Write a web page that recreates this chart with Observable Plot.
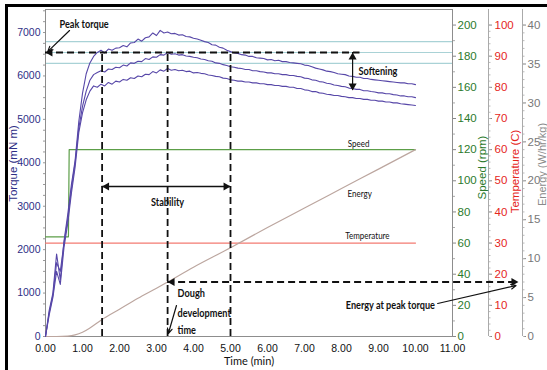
<!DOCTYPE html>
<html><head><meta charset="utf-8">
<script src="https://cdn.jsdelivr.net/npm/d3@7"></script>
<script src="https://cdn.jsdelivr.net/npm/@observablehq/plot@0.6"></script>
<style>
body{margin:0;background:#fff;}
#wrap{position:relative;width:547px;height:370px;overflow:hidden;}
#wrap svg{position:absolute;left:0;top:0;}
#border{position:absolute;left:5px;top:4px;width:700px;height:500px;border-left:3px solid #000;border-top:3px solid #000;}
</style></head><body><div id="wrap"><div id="border"></div></div>
<script>
// ---------- data ----------
const torqueTime = [0,0.1,0.2,0.3,0.4,0.5,0.6,0.7,0.8,0.9,1.0,1.1,1.2,1.3,1.4,1.5,1.6,1.7,1.8,1.9,2.0,2.1,2.2,2.3,2.4,2.5,2.6,2.7,2.8,2.9,3.0,3.1,3.2,3.3,3.4,3.5,3.6,3.7,3.8,3.9,4.0,4.1,4.2,4.3,4.4,4.5,4.6,4.7,4.8,4.9,5.0,5.1,5.2,5.3,5.4,5.5,5.6,5.7,5.8,5.9,6.0,6.1,6.2,6.3,6.4,6.5,6.6,6.7,6.8,6.9,7.0,7.1,7.2,7.3,7.4,7.5,7.6,7.7,7.8,7.9,8.0,8.1,8.2,8.3,8.4,8.5,8.6,8.7,8.8,8.9,9.0,9.1,9.2,9.3,9.4,9.5,9.6,9.7,9.8,9.9,10.0];
const torqueUpper = [0,600,1000,1900,1300,2200,2800,3500,4050,4950,5600,6050,6300,6450,6540,6590,6530,6620,6590,6640,6650,6700,6670,6760,6770,6850,6800,6880,6900,6990,6930,7050,6990,7010,6970,6980,6940,6950,6910,6900,6870,6850,6820,6790,6770,6720,6710,6660,6640,6590,6560,6530,6520,6490,6480,6450,6450,6420,6410,6400,6370,6380,6350,6360,6330,6330,6310,6300,6290,6280,6250,6240,6210,6180,6160,6140,6110,6100,6080,6050,6040,6030,6000,5990,5970,5970,5940,5940,5920,5910,5900,5890,5880,5870,5860,5850,5840,5840,5820,5820,5800];
const torqueMiddle = [0,550,950,1700,1500,2150,2700,3400,4000,4800,5300,5650,5900,6030,6080,6120,6090,6160,6150,6200,6190,6250,6230,6300,6290,6340,6330,6400,6380,6440,6430,6490,6480,6540,6500,6510,6480,6490,6460,6450,6430,6420,6390,6380,6350,6340,6300,6290,6260,6240,6210,6200,6180,6170,6150,6150,6120,6120,6100,6090,6070,6070,6050,6050,6030,6030,6010,6010,5990,5980,5950,5940,5910,5900,5870,5860,5830,5820,5790,5780,5760,5750,5720,5710,5690,5690,5660,5660,5640,5630,5610,5610,5590,5590,5570,5560,5540,5540,5520,5520,5500];
const torqueLower = [0,500,900,1500,1200,2050,2600,3300,3900,4700,5150,5450,5650,5770,5740,5810,5770,5850,5810,5880,5860,5920,5900,5960,5940,6000,5980,6040,6030,6100,6070,6140,6110,6170,6130,6150,6120,6130,6100,6110,6070,6080,6060,6050,6020,6010,5990,5980,5950,5940,5910,5900,5880,5880,5860,5860,5840,5840,5820,5820,5800,5800,5780,5780,5760,5760,5740,5740,5710,5710,5680,5670,5640,5640,5610,5600,5580,5570,5550,5550,5530,5520,5500,5500,5480,5480,5460,5460,5440,5440,5420,5420,5400,5400,5380,5380,5360,5350,5340,5330,5320];
const speedTime = [0, 0.62, 0.64, 10];
const speedRpm = [64, 64, 120, 120];
const tempTime = [0, 10];
const tempC = [30, 30];
const energyTime = [0,0.3,0.6,0.8,1.0,1.2,1.5,2.0,2.5,3.0,3.3,4.0,5.0,6.0,7.0,8.0,9.0,10.0];
const energyWhkg = [0,0,0.05,0.2,0.55,1.1,2.1,3.5,4.9,6.2,7.0,8.9,11.4,14.0,16.5,19.0,21.5,24.0];

const timeTicks = [0,1,2,3,4,5,6,7,8,9,10,11];
const torqueTicks = [0,1000,2000,3000,4000,5000,6000,7000];
const speedTicks = [0,20,40,60,80,100,120,140,160,180,200];
const tempTicks = [0,10,20,30,40,50,60,70,80,90,100];
const energyTicks = [0,5,10,15,20,25,30,35,40];

// farinograph readings
const peakTorque = 6540;
const arrivalTime = 1.53;
const peakTime = 3.3;
const departureTime = 5.0;
const energyAtPeak = 7.0;
const softeningLow = 5665;
const guideLevels = [6790, 6540, 6290];

// ---------- scales ----------
const TORQUE_TOP = 7530, SPEED_TOP = 210, TEMP_TOP = 105, ENERGY_TOP = 42;
const kS = TORQUE_TOP / SPEED_TOP, kT = TORQUE_TOP / TEMP_TOP, kE = TORQUE_TOP / ENERGY_TOP;

const torqueRows = torqueTime.flatMap((t, i) => [
  {t, v: torqueUpper[i], s: "upper"},
  {t, v: torqueMiddle[i], s: "middle"},
  {t, v: torqueLower[i], s: "lower"}
]);
const speedRows = speedTime.map((t, i) => ({t, v: speedRpm[i] * kS}));
const tempRows = tempTime.map((t, i) => ({t, v: tempC[i] * kT}));
const energyRows = energyTime.map((t, i) => ({t, v: energyWhkg[i] * kE}));

const SANS = "'Liberation Sans', Arial, sans-serif";
const CAL = "Lato, 'Liberation Sans', sans-serif";
const DASH = {stroke: "#111", strokeWidth: 1.8, strokeDasharray: "7,4"};
const HEAD = {symbol: "triangle", r: 3, fill: "#111"};
const BOLD = {fontFamily: CAL, fontWeight: "bold", fontSize: 11, fill: "#111", ariaDescription: "condensed-bold"};
const eY = energyAtPeak * kE;
const stabY = 3454;
const softX = 8.3;
const energyArrowEnd = 12.78;

const chart = Plot.plot({
  width: 547, height: 370,
  marginLeft: 45, marginRight: 95, marginTop: 9, marginBottom: 34,
  x: {domain: [0, 11], axis: null},
  y: {domain: [0, TORQUE_TOP], axis: null},
  style: {fontFamily: SANS, background: "transparent", overflow: "visible"},
  marks: [
    Plot.ruleY(guideLevels, {stroke: "#a9d2d6", strokeWidth: 1.2}),
    Plot.frame({stroke: "#8d8d8d"}),
    // axes
    Plot.axisY(torqueTicks, {anchor: "left", tickSize: 0, tickPadding: 5, fill: "#2e2e86", fontSize: 10.5, tickFormat: d => String(d)}),
    Plot.axisY(d3.range(0, 7501, 250), {anchor: "left", tickSize: 2, stroke: "#999", tickFormat: () => ""}),
    Plot.axisX(timeTicks, {anchor: "bottom", tickSize: 0, tickPadding: 8, fill: "#111", fontSize: 10.5, tickFormat: d3.format(".2f")}),
    Plot.axisY(speedTicks.map(v => v * kS), {anchor: "right", tickSize: 3, tickPadding: 2, stroke: "#888", fill: "#2c7a2c", fontSize: 11.5, tickFormat: d => Math.round(d / kS)}),
    Plot.axisY(d3.range(10, 201, 20).map(v => v * kS), {anchor: "right", tickSize: 2, stroke: "#aaa", tickFormat: () => ""}),
    Plot.ruleX([11], {dx: 36, y1: 0, y2: TORQUE_TOP, stroke: "#aaa"}),
    Plot.axisY(tempTicks.map(v => v * kT), {anchor: "right", dx: 36, tickSize: 3, tickPadding: 3, stroke: "#888", fill: "#e5261c", fontSize: 11.5, tickFormat: d => Math.round(d / kT)}),
    Plot.axisY(d3.range(0, 101, 2).map(v => v * kT), {anchor: "right", dx: 36, tickSize: 1.5, stroke: "#bbb", tickFormat: () => ""}),
    Plot.ruleX([11], {dx: 70, y1: 0, y2: TORQUE_TOP, stroke: "#aaa"}),
    Plot.axisY(energyTicks.map(v => v * kE), {anchor: "right", dx: 70, tickSize: 3, tickPadding: 2, stroke: "#888", fill: "#777", fontSize: 11.5, tickFormat: d => Math.round(d / kE)}),
    Plot.axisY(d3.range(0, 41, 1).map(v => v * kE), {anchor: "right", dx: 70, tickSize: 1.5, stroke: "#bbb", tickFormat: () => ""}),
    // axis titles
    Plot.text(["Torque (mN m)"], {x: 0, y: 3984, dx: -32, rotate: -90, fill: "#2e2e86", fontSize: 11.5}),
    Plot.text(["Time (min)"], {frameAnchor: "bottom", dy: 28, fill: "#111", fontSize: 11, fontFamily: CAL}),
    Plot.text(["Speed (rpm)"], {x: 11, y: 3891, dx: 30, rotate: -90, fill: "#2c7a2c", fontSize: 11.5}),
    Plot.text(["Temperature (C)"], {x: 11, y: 3800, dx: 63, rotate: -90, fill: "#e5261c", fontSize: 11.5}),
    Plot.text(["Energy (W/hr/kg)"], {x: 11, y: 3961, dx: 90, rotate: -90, fill: "#8a8a8a", fontSize: 11}),
    // series
    Plot.line(tempRows, {x: "t", y: "v", stroke: "#f47b72", strokeWidth: 1.2}),
    Plot.line(speedRows, {x: "t", y: "v", stroke: "#5c9e48", strokeWidth: 1.2}),
    Plot.line(energyRows, {x: "t", y: "v", stroke: "#bca69f", strokeWidth: 1.2, curve: "monotone-x"}),
    Plot.line(torqueRows, {x: "t", y: "v", z: "s", stroke: "#5747a8", strokeWidth: 1.1}),
    // series labels
    Plot.text([{x: 8.46, y: 4444, s: "Speed"}, {x: 8.49, y: 3293, s: "Energy"}, {x: 8.7, y: 2326, s: "Temperature"}],
      {x: "x", y: "y", text: "s", fontFamily: CAL, fontSize: 10, fill: "#111", ariaDescription: "condensed-plain"}),
    // dashed guide lines
    Plot.ruleY([peakTorque], {x1: 0, x2: 8.5, ...DASH}),
    Plot.ruleX([arrivalTime, peakTime, departureTime], {y1: 0, y2: peakTorque, ...DASH}),
    Plot.ruleY([eY], {x1: peakTime, x2: energyArrowEnd, ...DASH}),
    // solid double arrows
    Plot.ruleX([softX], {y1: softeningLow, y2: peakTorque, stroke: "#111", strokeWidth: 1.2}),
    Plot.ruleY([stabY], {x1: arrivalTime, x2: departureTime, stroke: "#111", strokeWidth: 1.4}),
    // arrow heads
    Plot.dot([{x: 0, y: peakTorque}, {x: arrivalTime, y: stabY}, {x: peakTime, y: eY}], {x: "x", y: "y", dx: 4.6, rotate: -90, ...HEAD}),
    Plot.dot([{x: departureTime, y: stabY}, {x: energyArrowEnd, y: eY}], {x: "x", y: "y", dx: -4.6, rotate: 90, ...HEAD}),
    Plot.dot([{x: softX, y: peakTorque}], {x: "x", y: "y", dy: 4.6, rotate: 0, ...HEAD}),
    Plot.dot([{x: softX, y: softeningLow}], {x: "x", y: "y", dy: -4.6, rotate: 180, ...HEAD}),
    Plot.arrow([
      {x1: 0.65, y1: 7046, x2: 0.06, y2: 6560},
      {x1: 3.54, y1: 714, x2: 3.32, y2: 69},
      {x1: 10.6, y1: 760, x2: 12.72, y2: 1174}
    ], {x1: "x1", y1: "y1", x2: "x2", y2: "y2", stroke: "#111", strokeWidth: 1.2, headLength: 7, headAngle: 50}),
    // annotation labels
    Plot.text([{x: peakTime, y: 3085, s: "Stability"}, {x: 9.32, y: 714, s: "Energy at peak torque"}],
      {x: "x", y: "y", text: "s", ...BOLD}),
    Plot.text([{x: 0.38, y: 7184, s: "Peak torque"}, {x: 8.46, y: 6102, s: "Softening"}, {x: 3.57, y: 990, s: "Dough"}, {x: 3.57, y: 530, s: "development"}, {x: 3.57, y: 138, s: "time"}],
      {x: "x", y: "y", text: "s", textAnchor: "start", ...BOLD})
  ]
});
document.getElementById("wrap").prepend(chart);

// narrow (Calibri-like) lettering for the annotations: compress glyphs, keep anchors
function condense(svg, label, k) {
  svg.querySelectorAll(`g[aria-description="${label}"] text`).forEach(t => {
    const w = t.getComputedTextLength();
    if (w > 0) {
      t.setAttribute("textLength", (w * k).toFixed(1));
      t.setAttribute("lengthAdjust", "spacingAndGlyphs");
    }
  });
}
condense(chart, "condensed-bold", 0.83);
condense(chart, "condensed-plain", 0.8);
</script>
</body></html>
